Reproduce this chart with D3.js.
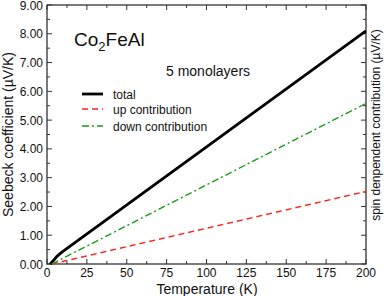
<!DOCTYPE html>
<html><head><meta charset="utf-8">
<script src="https://cdn.jsdelivr.net/npm/d3@7"></script>
<style>body{margin:0;background:#fff}text{font-family:"Liberation Sans",Arial,sans-serif}</style>
</head><body><svg id="c" width="386" height="296"></svg>
<script>
const xTicks=[0,25,50,75,100,125,150,175,200];
const yTicks=[0,1,2,3,4,5,6,7,8,9];
const totalT=[2,4,6,8,10,200];
const totalV=[0,0.12,0.25,0.35,0.44,8.1];
const upT=[3,200];
const upV=[0,2.52];
const downT=[3,200];
const downV=[0,5.58];
const legendLabels=["total","up contribution","down contribution"];

const svg=d3.select("#c");
const m={l:47,r:366,t:5,b:264};
const x=d3.scaleLinear().domain([0,200]).range([m.l,m.r]);
const y=d3.scaleLinear().domain([0,9]).range([m.b,m.t]);
const axCol="#333";
svg.append("rect").attr("x",m.l).attr("y",m.t).attr("width",m.r-m.l).attr("height",m.b-m.t)
 .attr("fill","none").attr("stroke",axCol).attr("stroke-width",1.3);
const minorX=d3.range(0,201,12.5), minorY=d3.range(0,9.01,0.5);
const tg=svg.append("g").attr("stroke",axCol).attr("stroke-width",1);
minorX.forEach(v=>{const L=(v%25===0)?5:3;
 tg.append("line").attr("x1",x(v)).attr("x2",x(v)).attr("y1",m.b).attr("y2",m.b-L);
 tg.append("line").attr("x1",x(v)).attr("x2",x(v)).attr("y1",m.t).attr("y2",m.t+L);});
minorY.forEach(v=>{const L=(Math.abs(v-Math.round(v))<1e-6)?5:3;
 tg.append("line").attr("y1",y(v)).attr("y2",y(v)).attr("x1",m.l).attr("x2",m.l+L);
 tg.append("line").attr("y1",y(v)).attr("y2",y(v)).attr("x1",m.r).attr("x2",m.r-L);});
xTicks.forEach(v=>svg.append("text").attr("x",x(v)).attr("y",m.b+13).attr("text-anchor","middle")
 .attr("font-size",12).attr("fill","#111").text(v));
yTicks.forEach(v=>svg.append("text").attr("x",m.l-4).attr("y",y(v)+4.5).attr("text-anchor","end")
 .attr("font-size",12).attr("fill","#111").text(v.toFixed(2)));
const line=d3.line().x(d=>x(d[0])).y(d=>y(d[1]));
const series=[
 {T:totalT,V:totalV,c:"#000",w:2.8,dash:null},
 {T:upT,V:upV,c:"#ff2020",w:1.4,dash:"6,4"},
 {T:downT,V:downV,c:"#1a9a1a",w:1.4,dash:"7,3,2,3"}];
series.forEach(s=>{svg.append("path").datum(s.T.map((t,i)=>[t,s.V[i]])).attr("d",line)
 .attr("fill","none").attr("stroke",s.c).attr("stroke-width",s.w).attr("stroke-dasharray",s.dash);});
const ly=[94,109,126];
series.forEach((s,i)=>{svg.append("line").attr("x1",82).attr("x2",103).attr("y1",ly[i]).attr("y2",ly[i])
 .attr("stroke",s.c).attr("stroke-width",s.w).attr("stroke-dasharray",s.dash);
 svg.append("text").attr("x",113).attr("y",ly[i]+4.5).attr("font-size",12).attr("fill","#111").text(legendLabels[i]);});
const t1=svg.append("text").attr("x",74).attr("y",46).attr("font-size",19).attr("fill","#111");
t1.append("tspan").text("Co");
t1.append("tspan").attr("font-size",13).attr("dy",5).text("2");
t1.append("tspan").attr("dy",-5).text("FeAl");
svg.append("text").attr("x",166).attr("y",76).attr("font-size",14).attr("fill","#111").text("5 monolayers");
svg.append("text").attr("x",207).attr("y",294).attr("text-anchor","middle").attr("font-size",14).attr("fill","#111").text("Temperature (K)");
svg.append("text").attr("transform",`translate(13,${(m.t+m.b)/2}) rotate(-90)`).attr("text-anchor","middle")
 .attr("font-size",14).attr("fill","#111").text("Seebeck coefficient (\u00b5V/K)");
svg.append("text").attr("transform",`translate(380,125) rotate(-90)`).attr("text-anchor","middle")
 .attr("font-size",12).attr("fill","#111").text("spin denpendent contribution (\u00b5V/K)");
</script></body></html>
